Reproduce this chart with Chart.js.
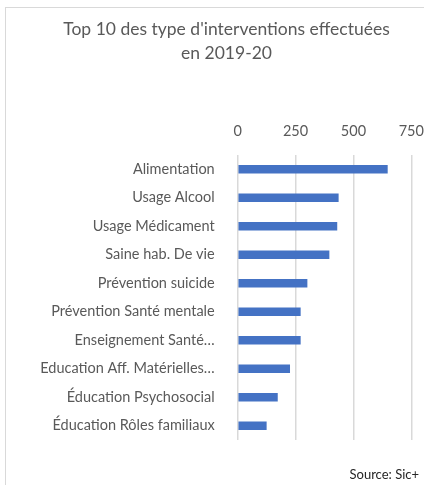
<!DOCTYPE html>
<html lang="fr">
<head>
<meta charset="utf-8">
<title>Top 10 des type d'interventions</title>
<script src="https://cdn.jsdelivr.net/npm/chart.js@4.4.1/dist/chart.umd.min.js"></script>
<style>
  html, body { margin: 0; padding: 0; background: #fff; overflow: hidden; }
  #frame {
    position: absolute; left: 5px; top: 7px; width: 600px; height: 600px;
    border-left: 1px solid #d9d9d9; border-top: 1px solid #d9d9d9;
  }
  #wrap { position: absolute; left: 0; top: 0; width: 424px; height: 485px; }
</style>
</head>
<body>
<div id="frame"></div>
<div id="wrap"><canvas id="chart"></canvas></div>
<script>
// categories and values, top to bottom
const categories = [
  'Alimentation',
  'Usage Alcool',
  'Usage Médicament',
  'Saine hab. De vie',
  'Prévention suicide',
  'Prévention Santé mentale',
  'Enseignement Santé…',
  'Education Aff. Matérielles…',
  'Éducation Psychosocial',
  'Éducation Rôles familiaux'
];
const interventions = [648, 436, 430, 396, 301, 272, 272, 226, 173, 125];
const xTicks = [0, 250, 500, 750];
const titleLines = ["Top 10 des type d'interventions effectuées", 'en 2019-20'];
const sourceText = 'Source: Sic+';

const FONT = 'Lato, "Liberation Sans", sans-serif';
const GREY = '#595959';

// small footnote in the lower right corner
const sourceNote = {
  id: 'sourceNote',
  afterDraw(chart) {
    const ctx = chart.ctx;
    ctx.save();
    ctx.font = '13px ' + FONT;
    ctx.fillStyle = '#262626';
    ctx.textAlign = 'right';
    ctx.textBaseline = 'middle';
    ctx.fillText(sourceText, chart.width - 5, 475);
    ctx.restore();
  }
};

new Chart(document.getElementById('chart'), {
  type: 'bar',
  data: {
    labels: categories,
    datasets: [{
      data: interventions,
      backgroundColor: '#4472C4',
      barPercentage: 0.5,
      categoryPercentage: 0.6
    }]
  },
  options: {
    indexAxis: 'y',
    responsive: true,
    maintainAspectRatio: false,
    animation: false,
    layout: { padding: { left: 29, right: 0, top: 0, bottom: 45 } },
    plugins: {
      legend: { display: false },
      tooltip: { enabled: false },
      title: {
        display: true,
        text: titleLines,
        color: GREY,
        font: { family: FONT, size: 17.5, weight: 'normal', lineHeight: 1.33 },
        padding: { top: 18, bottom: 10 }
      }
    },
    scales: {
      x: {
        position: 'top',
        min: 0,
        max: 750,
        afterBuildTicks: (s) => { s.ticks = xTicks.map(v => ({ value: v })); },
        afterFit: (s) => { s.height = 80.5; s.paddingLeft = 0; s.paddingRight = 12.7; },
        grid: { color: '#d9d9d9', lineWidth: 1.5, drawTicks: false },
        border: { display: false },
        ticks: {
          color: GREY,
          padding: 3,
          font: { family: FONT, size: 14.5, lineHeight: 2.85 }
        }
      },
      y: {
        afterFit: (s) => { s.width = 208.7; },
        grid: { display: false },
        border: { display: false },
        ticks: {
          color: GREY,
          padding: 15,
          font: { family: FONT, size: 14.5 }
        }
      }
    }
  },
  plugins: [sourceNote]
});
</script>
</body>
</html>
